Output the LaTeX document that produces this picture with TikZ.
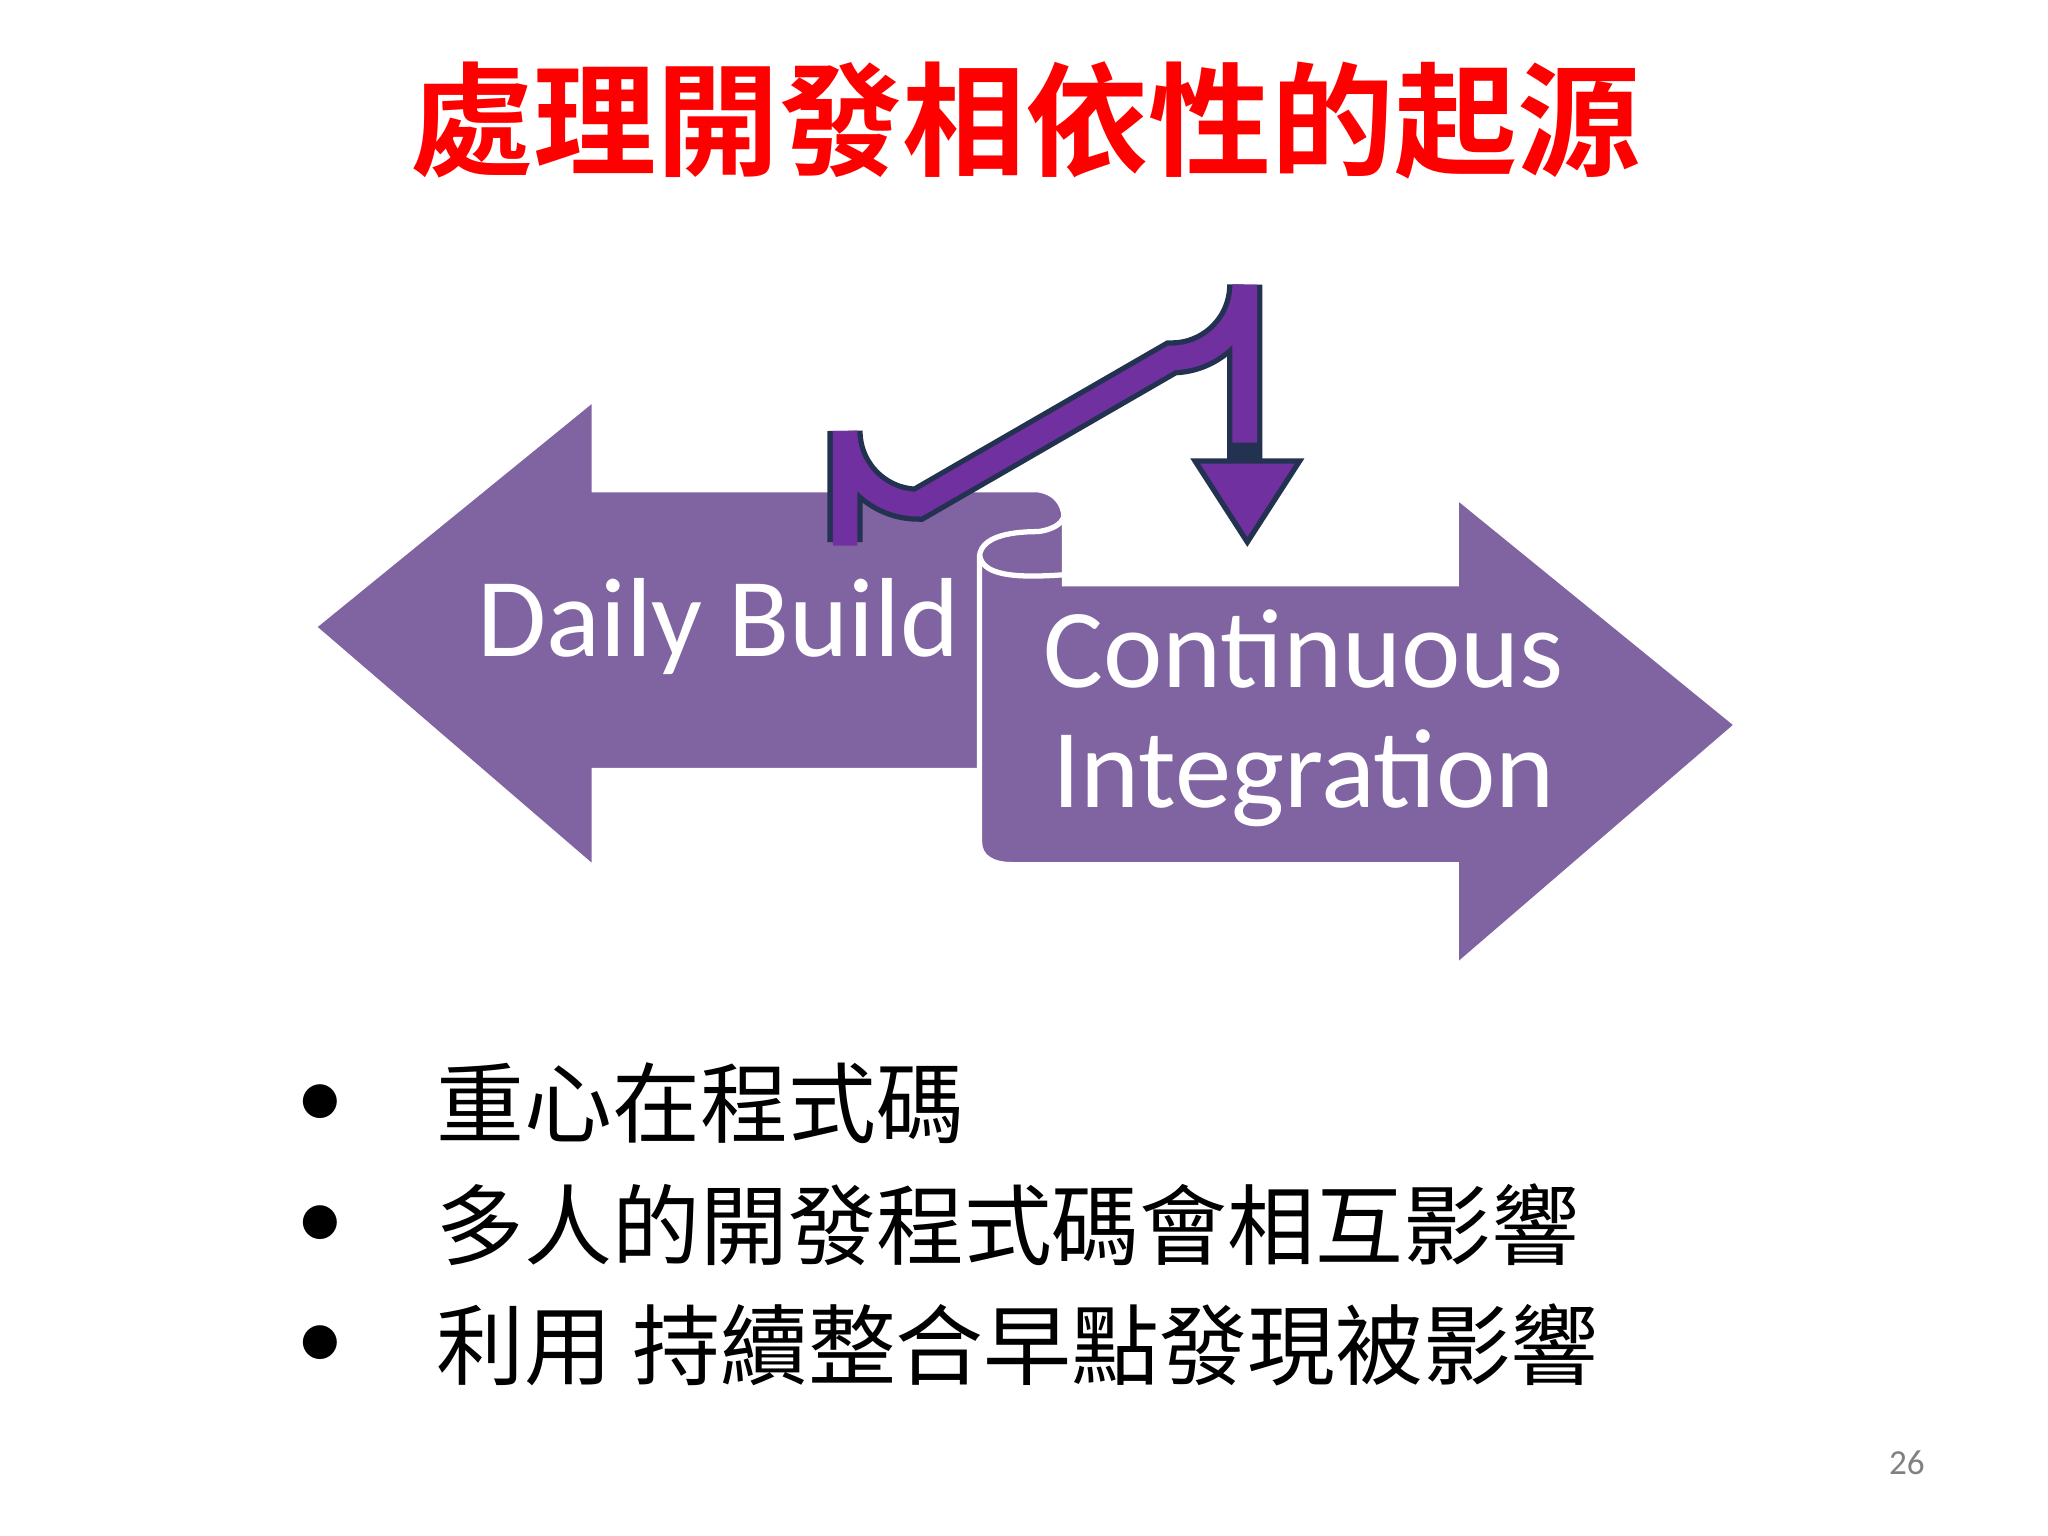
\documentclass[tikz,border=0pt]{standalone}
\usepackage{fontspec}
\newfontfamily\cjk{Noto Sans CJK TC}
\newfontfamily\cjkb{Noto Sans CJK TC Bold}
\newfontfamily\carlfont{Carlito}
\definecolor{arrowfill}{HTML}{8064A2}
\definecolor{folddark}{HTML}{654E86}
\definecolor{bendpurple}{HTML}{7030A0}
\definecolor{bendedge}{HTML}{243252}
\begin{document}
\begin{tikzpicture}[x=0.01306cm,y=-0.01306cm,
  bigarrow/.style={fill=arrowfill,draw=white,line width=1.5pt,line join=miter},
  lbl/.style={text=white,font=\carlfont\fontsize{32}{38}\selectfont,align=center},
  bul/.style={anchor=west,font=\cjk\fontsize{25}{30}\selectfont},
  dot/.style={font=\fontsize{25}{30}\selectfont}]
\useasboundingbox (0,0) rectangle (1568,1176);
\fill[white] (0,0) rectangle (1568,1176);
\node[font=\cjkb\fontsize{35}{40}\selectfont,text=red] (title) at (785,92) {處理開發相依性的起源};
% left arrow
\path[bigarrow] (240,480) -- (455,305) -- (455,375) -- (795,375)
  .. controls (812,378) and (815,390) .. (815,400) -- (815,590) -- (455,590) -- (455,665) -- cycle;
% fold
\fill[folddark] (752,425) .. controls (770,410) and (800,408) .. (815,404) -- (815,442) -- (752,442) -- cycle;
% right arrow
\path[bigarrow] (750,425) .. controls (752,412) and (770,407) .. (795,407)
  .. controls (808,405) and (815,400) .. (815,392) -- (815,447) -- (1115,447) -- (1115,380) -- (1330,555)
  -- (1115,740) -- (1115,662) -- (775,662) .. controls (758,662) and (750,655) .. (750,645) -- cycle;
\draw[white,line width=1.5pt] (750,425) .. controls (752,440) and (775,443) .. (815,440);
\node[lbl] (db) at (550,480) {Daily Build};
\node[lbl] (ci) at (998,550) {Continuous\\[-4pt]Integration};
% curved arrow
\coordinate (cs) at (647,415);
\coordinate (ce) at (953,355);
\draw[color=bendedge,line width=10pt] (cs) -- (647,330) arc (180:90:56) -- (897,274) arc (90:0:56) -- (ce);
\draw[color=bendpurple,line width=7pt] ([yshift=-1pt]cs) -- (647,330) arc (180:90:56) -- (897,274) arc (90:0:56) -- ([yshift=6pt]ce);
\filldraw[fill=bendpurple,draw=bendedge,line width=1.5pt,line join=miter] (915,353) -- (995,353) -- (955,415) -- cycle;
% bullets
\foreach \y/\t in {845/重心在程式碼,938/多人的開發程式碼會相互影響,1030/利用 持續整合早點發現被影響}{
  \node[dot] at (245,\y) {$\bullet$};
  \node[bul] at (325,\y) {\t};
}
\node[text=gray,font=\carlfont\fontsize{10}{12}\selectfont] (pg) at (1460,1120) {26};
\end{tikzpicture}
\end{document}
